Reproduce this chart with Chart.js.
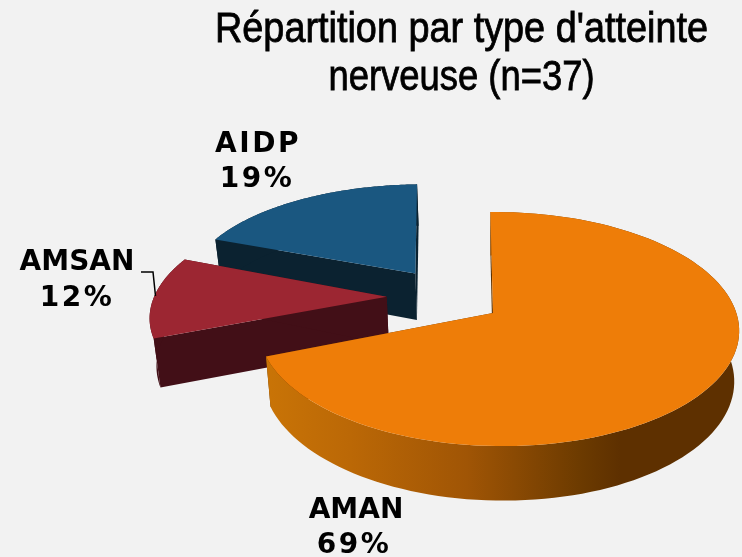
<!DOCTYPE html>
<html><head><meta charset="utf-8">
<style>html,body{margin:0;padding:0;background:#f2f2f2;width:742px;height:557px;overflow:hidden}#w{position:relative;width:742px;height:557px}</style>
<script src="https://cdn.jsdelivr.net/npm/chart.js@4"></script>
</head><body><div id="w"><canvas id="c"></canvas></div>
<script>
const categories = ['AMAN', 'AMSAN', 'AIDP'];
const percentages = [69, 12, 19];
const chartTitle = ['Répartition par type d\'atteinte', 'nerveuse (n=37)'];

const topColors = ['#ee7d08', '#9c2632', '#1a5780'];
const wallColors = ['#5f3200', '#420f17', '#0b2230'];
const explode = [[0, 0], [-0.46, -0.145], [-0.345, -0.365]];
const sliceForm = [{ sx: 1, sy: 1, c: 0.0125 }, { sx: 1.04, sy: 1, c: 0 }, { sx: 1.03, sy: 0.97, c: 0.035 }];
const labelPos = [[356, 511, 354, 546], [77, 263, 77, 299], [258, 145, 257, 180]];
const titleLines = [{ y: 42, width: 493 }, { y: 90, width: 266 }];
const wallStops = [[265, '#c97406'], [350, '#bb6806'], [467, '#a05505'], [583, '#6b3a00'], [620, '#5e3000'], [738, '#5e3000']];

const persp = { a: 0.137, b: 0.022, kx: 238 / 208, ky: 114.8 / 208, vx: 493, f: 0.02, shiftX: 32 };

function project(arc, i, c, s) {
  const R = arc.outerRadius, F = sliceForm[i];
  const u = c * F.sx + s * F.c + explode[i][0], v = s * F.sy + explode[i][1];
  const den = 1 - persp.a * v - persp.b * u;
  return { x: arc.x + persp.shiftX + R * persp.kx * u / den, y: arc.y + R * persp.ky * v / den, den };
}
function lower(p) {
  return { x: p.x + (persp.vx - p.x) * persp.f, y: p.y + 49 + (1 - p.den) * 40 };
}
function rim(arc, i) {
  const pts = [], n = 120;
  for (let k = 0; k <= n; k++) {
    const t = arc.startAngle + (arc.endAngle - arc.startAngle) * k / n;
    pts.push(project(arc, i, Math.cos(t), Math.sin(t)));
  }
  return pts;
}
function poly(ctx, pts, fill) {
  ctx.beginPath();
  pts.forEach((p, k) => k ? ctx.lineTo(p.x, p.y) : ctx.moveTo(p.x, p.y));
  ctx.closePath();
  ctx.fillStyle = fill;
  ctx.fill();
}
const pie3d = {
  id: 'pie3d',
  beforeDatasetsDraw(chart) {
    const ctx = chart.ctx, arcs = chart.getDatasetMeta(0).data;
    for (let i = arcs.length - 1; i >= 0; i--) {
      const arc = arcs[i], pts = rim(arc, i), apex = project(arc, i, 0, 0);
      const aL = lower(apex), first = pts[0], last = pts[pts.length - 1];
      poly(ctx, [apex, first, lower(first), aL], wallColors[i]);
      poly(ctx, [apex, last, lower(last), aL], wallColors[i]);
      let fill = wallColors[i];
      if (i === 0) {
        fill = ctx.createLinearGradient(265, 0, 738, 0);
        wallStops.forEach(s => fill.addColorStop((s[0] - 265) / 473, s[1]));
      }
      poly(ctx, pts.concat(pts.map(lower).reverse()), fill);
      poly(ctx, [apex].concat(pts), arc.options.backgroundColor);
    }
    return false;
  },
  afterDraw(chart) {
    const ctx = chart.ctx;
    ctx.save();
    ctx.fillStyle = '#000';
    ctx.strokeStyle = '#000';
    ctx.textAlign = 'center';
    ctx.textBaseline = 'alphabetic';
    ctx.font = '42px "Liberation Sans"';
    titleLines.forEach((line, k) => {
      const sc = line.width / ctx.measureText(chartTitle[k]).width;
      ctx.save();
      ctx.translate(461.5, line.y);
      ctx.scale(sc, 1);
      ctx.lineWidth = 0.8;
      ctx.fillText(chartTitle[k], 0, 0);
      ctx.strokeText(chartTitle[k], 0, 0);
      ctx.restore();
    });
    ctx.font = 'bold 28px "DejaVu Sans"';
    ctx.textBaseline = 'middle';
    categories.forEach((name, i) => {
      const q = labelPos[i];
      ctx.letterSpacing = name === 'AIDP' ? '2.5px' : '0px';
      ctx.fillText(name, q[0], q[1]);
      ctx.letterSpacing = '2.5px';
      ctx.fillText(percentages[i] + '%', q[2], q[3]);
    });
    ctx.letterSpacing = '0px';
    ctx.beginPath();
    ctx.moveTo(141, 272); ctx.lineTo(153, 272); ctx.lineTo(155.5, 296);
    ctx.lineWidth = 1.5; ctx.stroke();
    ctx.restore();
  }
};
new Chart(document.getElementById('c'), {
  type: 'pie',
  data: { labels: categories, datasets: [{ data: percentages, backgroundColor: topColors, borderWidth: 0 }] },
  options: {
    responsive: true, maintainAspectRatio: false, animation: false,
    layout: { padding: { left: 180, right: 0, top: 105, bottom: 36 } },
    plugins: { legend: { display: false }, tooltip: { enabled: false } }
  },
  plugins: [pie3d]
});
</script></body></html>
